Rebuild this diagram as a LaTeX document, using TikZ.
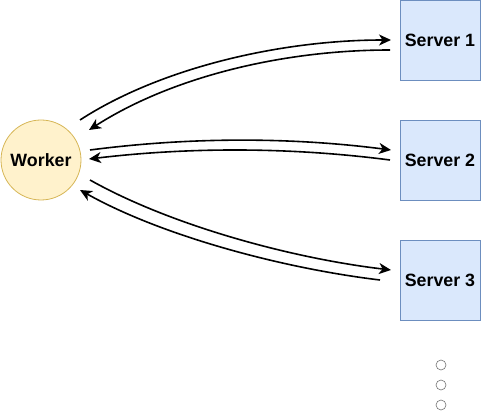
\documentclass[tikz,border=0pt]{standalone}
\usepackage{fontspec}
\setmainfont{Liberation Sans}
\usetikzlibrary{arrows.meta}
\definecolor{workerfill}{HTML}{FFF2CC}
\definecolor{workerline}{HTML}{D6B656}
\definecolor{serverfill}{HTML}{DAE8FC}
\definecolor{serverline}{HTML}{6C8EBF}
\begin{document}
\begin{tikzpicture}[x=1pt,y=-1pt,
  worker/.style={circle,draw=workerline,fill=workerfill,line width=0.8pt,minimum size=80pt,inner sep=0pt,text depth=0pt,font=\fontsize{17.8}{20}\selectfont\bfseries},
  server/.style={rectangle,draw=serverline,fill=serverfill,line width=0.8pt,minimum width=80pt,minimum height=80pt,inner sep=0pt,text depth=0pt,font=\fontsize{17.8}{20}\selectfont\bfseries},
  dot/.style={circle,draw=black!55,fill=white,line width=0.6pt,minimum size=10pt,inner sep=0pt},
  link/.style={line width=1.6pt,-{Stealth[length=12pt,width=11pt,inset=3.5pt]}}]
\useasboundingbox (0,0) rectangle (481,411);

\node[worker] (w) at (41,160) {Worker};
\node[server] (s1) at (440,40) {Server 1};
\node[server] (s2) at (440,160) {Server 2};
\node[server] (s3) at (440,280) {Server 3};

\node[dot] (d1) at (441,365) {};
\node[dot] (d2) at (441,385) {};
\node[dot] (d3) at (441,405) {};

% connector end points
\coordinate (a1) at (80,120);  \coordinate (b1) at (391,40);
\coordinate (c1) at (390,50);  \coordinate (e1) at (89,130);
\coordinate (a2) at (90,150);  \coordinate (b2) at (391,150);
\coordinate (c2) at (390,160); \coordinate (e2) at (89,159);
\coordinate (a3) at (90,180);  \coordinate (b3) at (391,270);
\coordinate (c3) at (380,280); \coordinate (e3) at (80,190);

% worker -> server 1 and back
\draw[link] (a1) .. controls (160,68) and (280,40) .. (b1);
\draw[link] (c1) .. controls (280,50) and (170,78) .. (e1);
% worker -> server 2 and back
\draw[link] (a2) .. controls (190,137) and (290,137) .. (b2);
\draw[link] (c2) .. controls (290,147) and (190,147) .. (e2);
% worker -> server 3 and back
\draw[link] (a3) .. controls (170,225) and (290,258) .. (b3);
\draw[link] (c3) .. controls (280,268) and (160,235) .. (e3);
\end{tikzpicture}
\end{document}
